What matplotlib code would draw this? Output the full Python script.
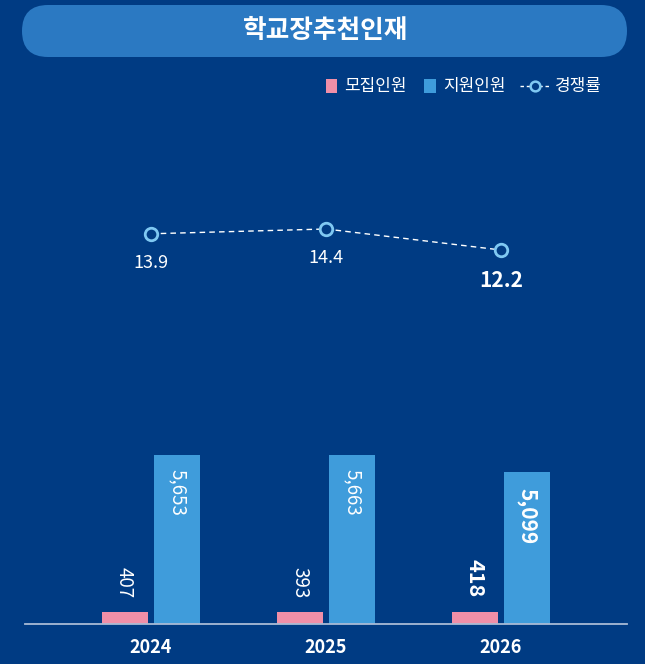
import matplotlib
matplotlib.use("Agg")
import matplotlib.pyplot as plt
from matplotlib.patches import FancyBboxPatch, Rectangle
from matplotlib.lines import Line2D
import numpy as np

plt.rcParams['font.family'] = ['Noto Sans CJK KR', 'DejaVu Sans']

years = ["2024", "2025", "2026"]
recruit = [407, 393, 418]
applicants = [5653, 5663, 5099]
ratio = [13.9, 14.4, 12.2]
title = "학교장추천인재"
legend_labels = ["모집인원", "지원인원", "경쟁률"]

BG = "#003B83"
PINK = "#F08FA8"
BLUE = "#3F9CDB"
PILL = "#2B79C2"
MARK = "#7FC8F2"

W, H = 645, 664
fig = plt.figure(figsize=(W / 100, H / 100), dpi=100, facecolor=BG)

# overlay axes in pixel coordinates for title/legend
ov = fig.add_axes([0, 0, 1, 1], facecolor="none")
ov.set_xlim(0, W)
ov.set_ylim(H, 0)
ov.axis("off")
ov.add_patch(FancyBboxPatch((22, 5), 605, 52, boxstyle="round,pad=0,rounding_size=26",
                            facecolor=PILL, edgecolor="none"))
ov.text(326, 31, title, color="white", fontsize=18.5, fontweight="heavy", ha="center", va="center")

# legend
ly = 86
ov.add_patch(Rectangle((326, ly - 7), 11, 14, facecolor=PINK, edgecolor="none"))
ov.text(344, ly, legend_labels[0], color="white", fontsize=12.2, ha="left", va="center")
ov.add_patch(Rectangle((424, ly - 7), 12, 14, facecolor=BLUE, edgecolor="none"))
ov.text(443, ly, legend_labels[1], color="white", fontsize=12.2, ha="left", va="center")
ov.add_line(Line2D([520, 550], [ly, ly], color="white", lw=1, ls=(0, (2.5, 2))))
ov.plot([535], [ly], marker="o", ms=7, mfc=BG, mec=MARK, mew=1.8)
ov.text(555, ly, legend_labels[2], color="white", fontsize=12.2, ha="left", va="center")

# main axes
ax = fig.add_axes([25 / W, (H - 624) / H, 602 / W, 514 / H], facecolor="none")
x = np.arange(len(years))
bw = 0.263
off = 0.151
ax.bar(x - off, recruit, width=bw, color=PINK, zorder=2)
ax.bar(x + off, applicants, width=bw, color=BLUE, zorder=2)
ax.set_xlim(-0.72, 2.72)
ax.set_ylim(0, 17190)
for s in ["top", "left", "right"]:
    ax.spines[s].set_visible(False)
ax.spines["bottom"].set_color("#A9BBD6")
ax.spines["bottom"].set_linewidth(1.3)
ax.set_yticks([])
ax.set_xticks(x)
ax.set_xticklabels(years, color="white", fontsize=13, fontweight="bold")
ax.tick_params(axis="x", length=0, pad=10)

for i in range(len(years)):
    last = i == len(years) - 1
    fw = "bold" if last else "normal"
    ax.annotate(f"{recruit[i]:,}", (x[i] - off, recruit[i]), xytext=(0, 10),
                textcoords="offset points", rotation=270, ha="center", va="bottom",
                color="white", fontsize=15.5 if last else 13.5, fontweight=fw)
    ax.annotate(f"{applicants[i]:,}", (x[i] + off, applicants[i]),
                xytext=(0, -12 if last else -10), textcoords="offset points",
                rotation=270, ha="center", va="top", color="white",
                fontsize=15 if last else 13.5, fontweight=fw)

ax2 = ax.twinx()
ax2.set_ylim(-26.96, 26.86)
ax2.axis("off")
ax2.plot(x, ratio, color="white", lw=1, ls=(0, (4, 3)), zorder=3)
ax2.plot(x, ratio, ls="none", marker="o", ms=9, mfc=BG, mec=MARK, mew=2, zorder=4)
for i in range(len(years)):
    last = i == len(years) - 1
    ax2.annotate(f"{ratio[i]}", (x[i], ratio[i]), xytext=(0, -22 if last else -21),
                 textcoords="offset points", ha="center", va="center", color="white",
                 fontsize=15 if last else 13, fontweight="bold" if last else "normal")

fig.savefig("out.png", dpi=100, facecolor=BG)
